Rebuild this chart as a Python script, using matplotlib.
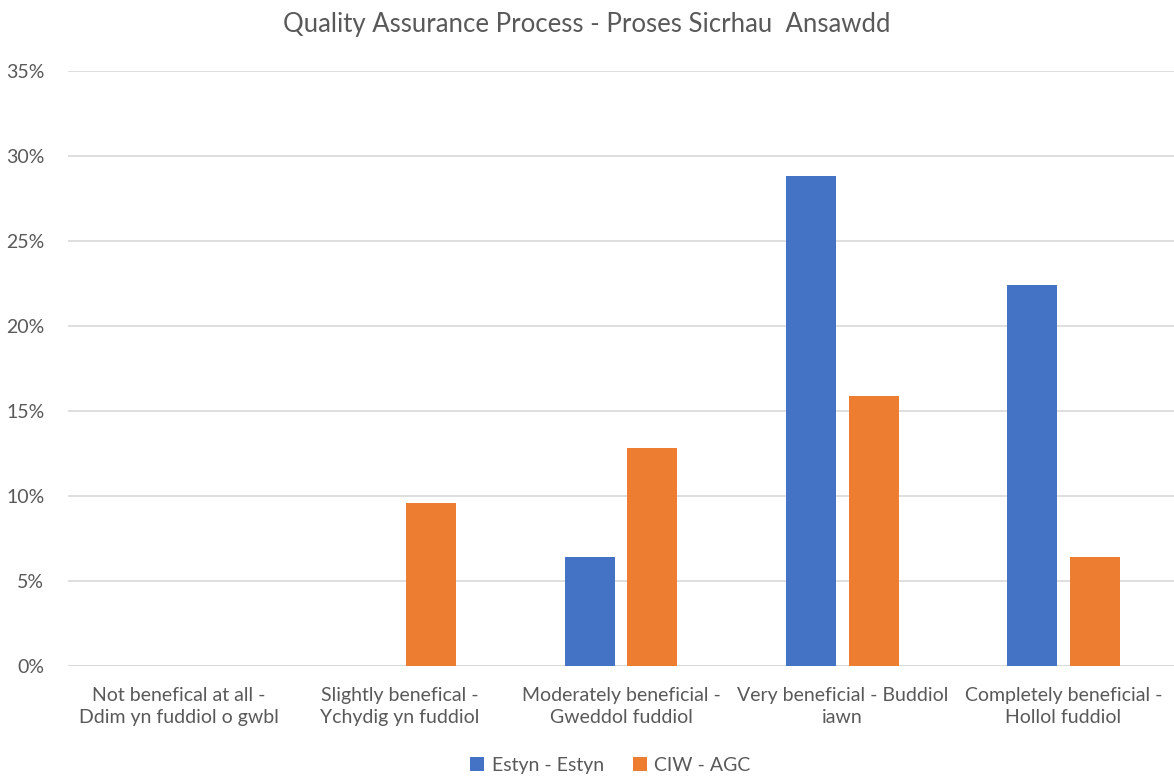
import numpy as np
import matplotlib.pyplot as plt
from matplotlib.ticker import PercentFormatter

plt.rcParams['font.family'] = ['Lato', 'DejaVu Sans']

categories = [
    "Not benefical at all -\nDdim yn fuddiol o gwbl",
    "Slightly benefical -\nYchydig yn fuddiol",
    "Moderately beneficial -\nGweddol fuddiol",
    "Very beneficial - Buddiol\niawn",
    "Completely beneficial -\nHollol fuddiol",
]
estyn = [0.0, 0.0, 6.4, 28.8, 22.4]
ciw = [0.0, 9.6, 12.8, 15.9, 6.4]
series_names = ["Estyn - Estyn", "CIW - AGC"]

text_col = '#595959'
fig = plt.figure(figsize=(11.74, 7.82), dpi=100)
ax = fig.add_axes([68 / 1174, 116 / 782, 1106 / 1174, 595 / 782])

x = np.arange(len(categories))
w = 0.226
off = 0.142
ax.bar(x - off, estyn, w, color='#4472C4', label=series_names[0], zorder=3)
ax.bar(x + off, ciw, w, color='#ED7D31', label=series_names[1], zorder=3)

ax.set_xlim(-0.5, len(categories) - 0.5)
ax.set_ylim(0, 35)
ax.set_yticks(np.arange(0, 36, 5))
ax.yaxis.set_major_formatter(PercentFormatter(decimals=0))
ax.grid(axis='y', color='#d9d9d9', linewidth=1.2, zorder=0)
for s in ax.spines.values():
    s.set_visible(False)
ax.axhline(0, color='#d9d9d9', linewidth=1.2, zorder=1)
ax.tick_params(axis='both', length=0, colors=text_col, labelsize=14)
ax.tick_params(axis='x', pad=15)
ax.tick_params(axis='y', pad=17)
ax.set_xticks(x)
ax.set_xticklabels(categories, linespacing=1.35)

fig.suptitle("Quality Assurance Process - Proses Sicrhau  Ansawdd",
             y=0.985, fontsize=18.5, color=text_col)

fig.legend(loc='lower center', bbox_to_anchor=(0.52, -0.012), ncol=2, frameon=False,
           fontsize=14, labelcolor=text_col, handlelength=0.7, handleheight=0.7,
           handletextpad=0.4, columnspacing=1.5)

fig.savefig('out.png', dpi=100)
